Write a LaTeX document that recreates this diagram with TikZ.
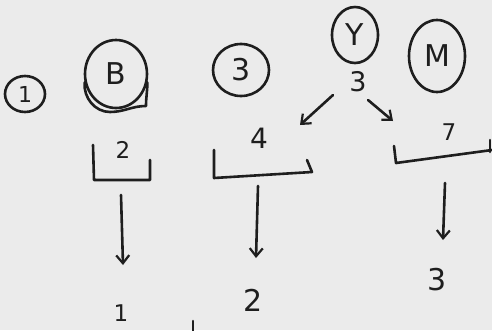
\documentclass[tikz,border=0pt]{standalone}
\usepackage{fontspec}
\setmainfont{DejaVu Sans}
\usetikzlibrary{arrows.meta,shapes.geometric}
\definecolor{ink}{HTML}{1E1E1E}
\definecolor{paper}{HTML}{EBEBEB}
\begin{document}
\begin{tikzpicture}[x=1pt,y=-1pt,
  inkline/.style={draw=ink,line width=2.6pt,line cap=round,line join=round},
  ring/.style={ellipse,inkline,inner sep=0pt,text=ink},
  big/.style={text=ink,font=\fontsize{30}{30}\selectfont},
  mid/.style={text=ink,font=\fontsize{23}{23}\selectfont},
  arr/.style={inkline,-{Straight Barb[length=8pt,width=13pt,line width=2.2pt]}}]
\fill[paper] (0,0) rectangle (492,330);
\useasboundingbox (0,0) rectangle (492,330);

% circled letters
\node[ring,minimum width=40,minimum height=36,font=\fontsize{22}{22}\selectfont] (c1) at (25,94) {1};
\node[ring,minimum width=62,minimum height=68,big] (cB) at (116,74) {B};
\draw[inkline] (cB.195) to[out=-95,in=180] (110,112) to[out=0,in=180] (146,106) to[out=90,in=-90] (cB.-15);
\node[ring,minimum width=56,minimum height=52,big] (c3) at (241,70) {3};
\node[ring,minimum width=46,minimum height=56,big] (cY) at (355,35) {Y};
\node[ring,minimum width=56,minimum height=72,big] (cM) at (437,56) {M};

% the 3 with its two arrows
\node[text=ink,font=\fontsize{27}{27}\selectfont] (y3) at (358,82) {3};
\coordinate (la0) at (333,95);
\coordinate (la1) at (300,125);
\coordinate (ra0) at (368,100);
\coordinate (ra1) at (393,121);
\draw[arr] (la0) -- (la1);
\draw[arr] (ra0) -- (ra1);

% brackets
\node[mid] (v2) at (123,150) {2};
\draw[inkline] (93,145) -- (94,180) -- (150,180) -- (150,160);
\node[text=ink,font=\fontsize{28}{28}\selectfont] (v4) at (259,138) {4};
\draw[inkline] (214,150) -- (214,178) -- (312,172) -- (307,160);
\node[mid] (v7) at (449,132) {7};
\draw[inkline] (394,146) -- (396,163) -- (492,150);
\draw[inkline] (490,140) -- (490,152);

% results
\node[mid] (r1) at (121,313) {1};
\node[big] (r2) at (253,300) {2};
\node[big] (r3) at (437,280) {3};
\coordinate (d1) at (121,195);
\coordinate (e1) at (123,265);
\coordinate (d2) at (258,186);
\coordinate (e2) at (256,258);
\coordinate (d3) at (445,183);
\coordinate (e3) at (443,240);
\draw[arr] (d1) -- (e1);
\draw[arr] (d2) -- (e2);
\draw[arr] (d3) -- (e3);

\draw[inkline] (193,321) -- (193,332);
\end{tikzpicture}
\end{document}
